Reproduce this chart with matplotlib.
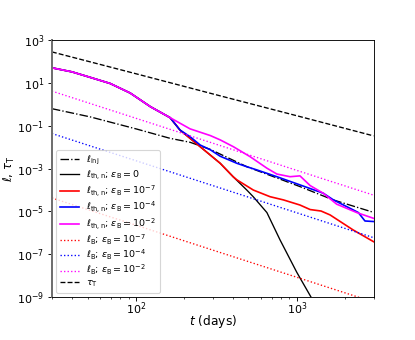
import matplotlib
matplotlib.use("Agg")
import matplotlib.pyplot as plt
from matplotlib.ticker import NullLocator

# ---- data ----
t_inj = [30, 52, 100, 163, 217, 290, 489, 1047, 1679, 3000]
l_inj = [0.63, 0.26, 0.072, 0.026, 0.017, 7.9e-3, 1.23e-3, 1.45e-4, 3.5e-5, 9.1e-6]

t_eb0 = [30, 40, 52, 69, 92, 123, 163, 188, 251, 334, 402, 489, 536, 652, 787, 1000, 1227, 1413]
l_eb0 = [51, 33, 18.2, 9.5, 3.4, 0.78, 0.24, 0.063, 0.0105, 1.78e-3, 4.2e-4, 1.0e-4,
         4.9e-5, 8.9e-6, 4.7e-7, 1.45e-8, 1.0e-9, 1.3e-10]

t_eb7 = [30, 40, 52, 69, 92, 123, 163, 188, 251, 334, 402, 424, 537, 682, 826, 1047,
         1211, 1416, 1611, 2239, 3000]
l_eb7 = [51, 33, 18.2, 9.5, 3.4, 0.78, 0.24, 0.063, 0.0105, 1.78e-3, 4.2e-4, 3.0e-4,
         1.0e-4, 4.9e-5, 3.47e-5, 2.0e-5, 1.23e-5, 1.05e-5, 6.9e-6, 1.38e-6, 3.9e-7]

t_eb4 = [30, 40, 52, 69, 92, 123, 163, 188, 217, 251, 290, 334, 424, 489, 565, 752,
         1047, 1462, 1687, 2249, 2415, 2655, 3000]
l_eb4 = [51, 33, 18.2, 9.5, 3.4, 0.78, 0.24, 0.063, 0.031, 0.0126, 7.6e-3, 3.8e-3,
         1.78e-3, 1.23e-3, 8.7e-4, 4.2e-4, 1.74e-4, 7.1e-5, 3.5e-5, 1.17e-5, 8.9e-6,
         3.6e-6, 3.4e-6]

t_eb2 = [30, 40, 52, 69, 92, 123, 163, 217, 290, 334, 404, 513, 652, 752, 908, 1047,
         1211, 1462, 1770, 2360, 3000]
l_eb2 = [51, 33, 18.2, 9.5, 3.4, 0.78, 0.24, 0.072, 0.035, 0.022, 0.0105, 3.6e-3,
         1.05e-3, 5.6e-4, 4.2e-4, 4.6e-4, 1.62e-4, 7.1e-5, 2.2e-5, 8.9e-6, 4.8e-6]

t_B = [30, 100, 300, 1000, 3000]
lB_eb7 = [4.27e-5, 2.29e-6, 1.58e-7, 8.5e-9, 5.9e-10]
lB_eb4 = [0.0437, 2.34e-3, 1.62e-4, 8.7e-6, 6.0e-7]
lB_eb2 = [4.17, 0.224, 0.0155, 8.3e-4, 5.8e-5]

t_tau = [30, 100, 300, 1000, 3000]
tau_T = [282, 26.9, 3.09, 0.295, 0.0339]

y_ticks = [1e-9, 1e-7, 1e-5, 1e-3, 1e-1, 1e1, 1e3]

labels = [
    r'$\ell_{\rm inj}$',
    r'$\ell_{\rm th,n}$; $\varepsilon_{\rm B}=0$',
    r'$\ell_{\rm th,n}$; $\varepsilon_{\rm B}=10^{-7}$',
    r'$\ell_{\rm th,n}$; $\varepsilon_{\rm B}=10^{-4}$',
    r'$\ell_{\rm th,n}$; $\varepsilon_{\rm B}=10^{-2}$',
    r'$\ell_{\rm B}$; $\varepsilon_{\rm B}=10^{-7}$',
    r'$\ell_{\rm B}$; $\varepsilon_{\rm B}=10^{-4}$',
    r'$\ell_{\rm B}$; $\varepsilon_{\rm B}=10^{-2}$',
    r'$\tau_{\rm T}$',
]

DPI = 80
fig = plt.figure(figsize=(415 / DPI, 340 / DPI), dpi=DPI)
ax = fig.add_axes([0.125, 0.126, 0.775, 0.756])

ax.plot(t_inj, l_inj, color='black', ls='-.', lw=1.2, label=labels[0])
ax.plot(t_eb0, l_eb0, color='black', ls='-', lw=1.2, label=labels[1])
ax.plot(t_eb7, l_eb7, color='red', ls='-', lw=1.5, label=labels[2])
ax.plot(t_eb4, l_eb4, color='blue', ls='-', lw=1.5, label=labels[3])
ax.plot(t_eb2, l_eb2, color='magenta', ls='-', lw=1.5, label=labels[4])
ax.plot(t_B, lB_eb7, color='red', ls=':', lw=1.2, label=labels[5])
ax.plot(t_B, lB_eb4, color='blue', ls=':', lw=1.2, label=labels[6])
ax.plot(t_B, lB_eb2, color='magenta', ls=':', lw=1.2, label=labels[7])
ax.plot(t_tau, tau_T, color='black', ls='--', lw=1.2, label=labels[8])

ax.set_xscale('log')
ax.set_yscale('log')
ax.set_xlim(30, 3000)
ax.set_ylim(1e-9, 1e3)
ax.set_yticks(y_ticks)
ax.yaxis.set_minor_locator(NullLocator())
ax.tick_params(axis='x', which='major', pad=-1)

ax.set_xlabel(r'$t$ (days)', labelpad=-3, fontsize=11)
ax.set_ylabel(r'$\ell$, $\tau_{\rm T}$', fontsize=10.5, labelpad=0)

ax.spines['left'].set_color('#707070')
ax.spines['left'].set_linewidth(1.8)

ax.legend(loc='lower left', fontsize=8.5, borderaxespad=0.45, labelspacing=0.12)

fig.savefig('out.png', dpi=DPI)
